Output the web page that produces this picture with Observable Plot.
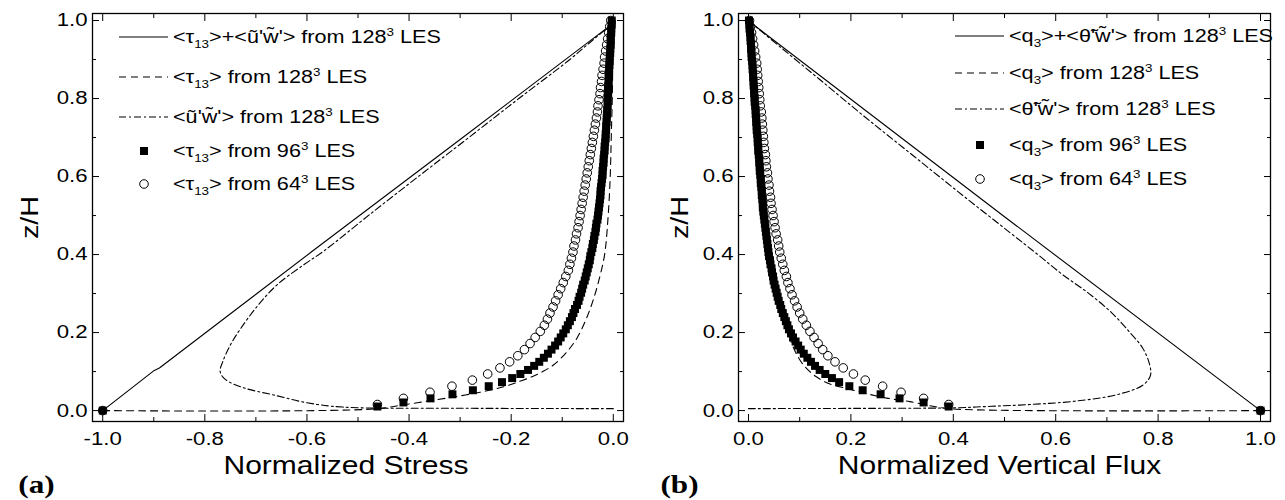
<!DOCTYPE html>
<html><head><meta charset="utf-8">
<script src="https://cdn.jsdelivr.net/npm/d3@7"></script>
<script src="https://cdn.jsdelivr.net/npm/@observablehq/plot@0.6"></script>
<style>
body{margin:0;background:#fff;}
#wrap{display:flex;width:1285px;height:500px;}
.panel{position:relative;height:500px;}
.leg{position:absolute;display:flex;align-items:center;height:24px;font-family:'Liberation Sans',Arial,sans-serif;font-size:18px;color:#000;white-space:nowrap;}
.leg svg{flex:none;overflow:visible;}
.leg .t{display:inline-block;transform:scaleX(1.2);transform-origin:0 50%;}
.leg sub{font-size:0.62em;vertical-align:baseline;position:relative;top:0.5em;}
.leg sup{font-size:0.62em;vertical-align:baseline;position:relative;top:-0.55em;}
</style></head>
<body><div id="wrap"></div>
<script>
// ---------- vertical levels (z/H) ----------
const z96 = [0.0,0.0104,0.0208,0.0313,0.0417,0.0521,0.0625,0.0729,0.0833,0.0938,0.1042,0.1146,0.125,0.1354,0.1458,0.1563,0.1667,0.1771,0.1875,0.1979,0.2083,0.2188,0.2292,0.2396,0.25,0.2604,0.2708,0.2813,0.2917,0.3021,0.3125,0.3229,0.3333,0.3438,0.3542,0.3646,0.375,0.3854,0.3958,0.4063,0.4167,0.4271,0.4375,0.4479,0.4583,0.4688,0.4792,0.4896,0.5,0.5104,0.5208,0.5313,0.5417,0.5521,0.5625,0.5729,0.5833,0.5938,0.6042,0.6146,0.625,0.6354,0.6458,0.6563,0.6667,0.6771,0.6875,0.6979,0.7083,0.7188,0.7292,0.7396,0.75,0.7604,0.7708,0.7813,0.7917,0.8021,0.8125,0.8229,0.8333,0.8438,0.8542,0.8646,0.875,0.8854,0.8958,0.9063,0.9167,0.9271,0.9375,0.9479,0.9583,0.9688,0.9792,0.9896,1.0];
const z64 = [0.0,0.0156,0.0313,0.0469,0.0625,0.0781,0.0938,0.1094,0.125,0.1406,0.1563,0.1719,0.1875,0.2031,0.2188,0.2344,0.25,0.2656,0.2813,0.2969,0.3125,0.3281,0.3438,0.3594,0.375,0.3906,0.4063,0.4219,0.4375,0.4531,0.4688,0.4844,0.5,0.5156,0.5313,0.5469,0.5625,0.5781,0.5938,0.6094,0.625,0.6406,0.6563,0.6719,0.6875,0.7031,0.7188,0.7344,0.75,0.7656,0.7813,0.7969,0.8125,0.8281,0.8438,0.8594,0.875,0.8906,0.9063,0.9219,0.9375,0.9531,0.9688,0.9844,1.0];

// ---------- panel (a): normalized stress ----------
const stressTotalX = [-1.0,-0.899,-0.889,-0.589,-0.30,-0.003];
const stressTotalZ = [0.0,0.103,0.109,0.409,0.695,0.99];
const stressSgsX = [-1.0,-0.47,-0.41,-0.345,-0.29,-0.25,-0.212,-0.183,-0.157,-0.138,-0.116,-0.09,-0.071,-0.052,-0.038,-0.027,-0.017,-0.010,-0.006,-0.004,-0.002,-0.001,0.0];
const stressSgsZ = [0.0,0.004,0.015,0.028,0.04,0.05,0.062,0.075,0.088,0.1,0.118,0.152,0.186,0.238,0.289,0.34,0.4,0.5,0.6,0.7,0.8,0.9,1.0];
const stressResX = [0.0,-0.3,-0.53,-0.6,-0.665,-0.723,-0.76,-0.77,-0.765,-0.75,-0.73,-0.697,-0.658,-0.605,-0.566,-0.47,-0.375,-0.28,-0.185,-0.09,-0.04,-0.003];
const stressResZ = [0.005,0.006,0.009,0.02,0.04,0.058,0.08,0.1,0.125,0.168,0.21,0.268,0.323,0.375,0.41,0.51,0.607,0.703,0.8,0.895,0.95,0.99];
const stress96 = [-1.0,-0.462,-0.411,-0.358,-0.315,-0.275,-0.244,-0.218,-0.198,-0.182,-0.167,-0.155,-0.145,-0.136,-0.128,-0.121,-0.114,-0.108,-0.103,-0.098,-0.093,-0.089,-0.085,-0.081,-0.078,-0.075,-0.071,-0.068,-0.066,-0.063,-0.061,-0.059,-0.056,-0.054,-0.052,-0.050,-0.048,-0.046,-0.045,-0.043,-0.041,-0.040,-0.038,-0.037,-0.035,-0.034,-0.033,-0.031,-0.030,-0.029,-0.028,-0.027,-0.026,-0.025,-0.025,-0.024,-0.023,-0.022,-0.021,-0.021,-0.020,-0.019,-0.019,-0.018,-0.017,-0.017,-0.016,-0.015,-0.015,-0.014,-0.014,-0.013,-0.013,-0.012,-0.012,-0.011,-0.011,-0.011,-0.010,-0.010,-0.010,-0.009,-0.009,-0.009,-0.008,-0.008,-0.007,-0.007,-0.006,-0.006,-0.005,-0.005,-0.005,-0.004,-0.004,-0.003,-0.003];
const stress64 = [-1.0,-0.462,-0.411,-0.359,-0.316,-0.276,-0.246,-0.222,-0.203,-0.187,-0.174,-0.163,-0.153,-0.143,-0.135,-0.129,-0.124,-0.118,-0.113,-0.108,-0.103,-0.098,-0.093,-0.088,-0.085,-0.082,-0.079,-0.077,-0.074,-0.072,-0.069,-0.067,-0.065,-0.063,-0.061,-0.059,-0.057,-0.055,-0.053,-0.051,-0.049,-0.047,-0.045,-0.043,-0.041,-0.039,-0.037,-0.035,-0.033,-0.031,-0.030,-0.028,-0.026,-0.025,-0.023,-0.022,-0.020,-0.018,-0.017,-0.015,-0.013,-0.011,-0.009,-0.007,-0.005];

// ---------- panel (b): normalized vertical flux ----------
const fluxTotalX = [1.0,0.5,0.006];
const fluxTotalZ = [0.0,0.497,0.993];
const fluxSgsX = [1.0,0.40,0.36,0.315,0.27,0.226,0.187,0.155,0.131,0.112,0.098,0.085,0.074,0.061,0.053,0.044,0.036,0.027,0.02,0.015,0.01,0.005,0.0];
const fluxSgsZ = [0.0,0.004,0.011,0.023,0.032,0.045,0.058,0.07,0.088,0.11,0.135,0.17,0.211,0.26,0.3,0.348,0.4,0.5,0.6,0.7,0.8,0.9,1.0];
const fluxResX = [0.0,0.3,0.4,0.475,0.556,0.637,0.717,0.77,0.785,0.783,0.77,0.745,0.71,0.665,0.612,0.565,0.51,0.42,0.325,0.23,0.138,0.064,0.006];
const fluxResZ = [0.005,0.006,0.007,0.011,0.016,0.024,0.04,0.065,0.09,0.12,0.16,0.2,0.25,0.3,0.35,0.4,0.457,0.55,0.65,0.75,0.85,0.93,0.993];
const flux96 = [1.0,0.391,0.342,0.295,0.258,0.223,0.197,0.177,0.163,0.150,0.139,0.130,0.122,0.115,0.108,0.102,0.097,0.092,0.087,0.083,0.079,0.076,0.073,0.070,0.067,0.064,0.062,0.059,0.057,0.055,0.053,0.051,0.049,0.048,0.046,0.045,0.043,0.042,0.040,0.039,0.038,0.037,0.036,0.035,0.034,0.033,0.032,0.031,0.030,0.029,0.028,0.028,0.027,0.026,0.026,0.025,0.024,0.024,0.023,0.022,0.022,0.021,0.021,0.020,0.019,0.019,0.018,0.018,0.017,0.016,0.016,0.015,0.015,0.014,0.014,0.013,0.012,0.012,0.011,0.011,0.010,0.010,0.009,0.009,0.008,0.008,0.007,0.006,0.006,0.005,0.005,0.004,0.004,0.003,0.002,0.002,0.001];
const flux64 = [1.0,0.391,0.342,0.298,0.262,0.228,0.205,0.185,0.169,0.155,0.145,0.136,0.128,0.120,0.113,0.106,0.100,0.095,0.090,0.085,0.081,0.077,0.074,0.070,0.067,0.064,0.061,0.059,0.057,0.054,0.052,0.050,0.048,0.046,0.044,0.043,0.041,0.040,0.038,0.037,0.035,0.034,0.033,0.031,0.030,0.029,0.028,0.027,0.026,0.025,0.023,0.022,0.021,0.020,0.019,0.018,0.017,0.016,0.014,0.012,0.010,0.008,0.006,0.004,0.002];

// ---------- ticks & text ----------
const stressMajor = [-1.0,-0.8,-0.6,-0.4,-0.2,0.0];
const stressMinor = [-0.9,-0.7,-0.5,-0.3,-0.1];
const fluxMajor = [0.0,0.2,0.4,0.6,0.8,1.0];
const fluxMinor = [0.1,0.3,0.5,0.7,0.9];
const zMajor = [0.0,0.2,0.4,0.6,0.8,1.0];
const zMinor = [0.1,0.3,0.5,0.7,0.9];
const xTitles = ["Normalized Stress","Normalized Vertical Flux"];
const yTitle = "z/H";
const panelTags = ["(a)","(b)"];
const legendA = [
  "&lt;τ<sub>13</sub>&gt;+&lt;ũ'w\u0303'&gt; from 128<sup>3</sup> LES",
  "&lt;τ<sub>13</sub>&gt; from 128<sup>3</sup> LES",
  "&lt;ũ'w\u0303'&gt; from 128<sup>3</sup> LES",
  "&lt;τ<sub>13</sub>&gt; from 96<sup>3</sup> LES",
  "&lt;τ<sub>13</sub>&gt; from 64<sup>3</sup> LES"];
const legendB = [
  "&lt;q<sub>3</sub>&gt;+&lt;θ\u0303'w\u0303'&gt; from 128<sup>3</sup> LES",
  "&lt;q<sub>3</sub>&gt; from 128<sup>3</sup> LES",
  "&lt;θ\u0303'w\u0303'&gt; from 128<sup>3</sup> LES",
  "&lt;q<sub>3</sub>&gt; from 96<sup>3</sup> LES",
  "&lt;q<sub>3</sub>&gt; from 64<sup>3</sup> LES"];
const legendKinds = ["solid","dashed","dashdot","square","circle"];

const DASH = "7,5", DASHDOT = "7,3,2,3";
const STRETCH = 1.2;
const fmt = d => d.toFixed(1);
const rows = (xs, zs) => xs.map((x, i) => ({x, z: zs[i]}));

function frameAxes(xMajor, xMinor) {
  const none = () => "";
  return [
    Plot.frame({stroke: "black", strokeWidth: 1.3}),
    Plot.axisX({ticks: xMajor, tickSize: -7, tickFormat: none, label: null}),
    Plot.axisX({ticks: xMinor, tickSize: -4, tickFormat: none, label: null}),
    Plot.axisX({anchor: "top", ticks: xMajor, tickSize: -7, tickFormat: none, label: null}),
    Plot.axisX({anchor: "top", ticks: xMinor, tickSize: -4, tickFormat: none, label: null}),
    Plot.axisY({ticks: zMajor, tickSize: -7, tickFormat: none, label: null}),
    Plot.axisY({ticks: zMinor, tickSize: -4, tickFormat: none, label: null}),
    Plot.axisY({anchor: "right", ticks: zMajor, tickSize: -7, tickFormat: none, label: null}),
    Plot.axisY({anchor: "right", ticks: zMinor, tickSize: -4, tickFormat: none, label: null}),
    // tick labels
    Plot.text(xMajor, {x: d => d, text: fmt, frameAnchor: "bottom", lineAnchor: "top", textAnchor: "middle", dy: 10, fontSize: 18.5}),
    Plot.text(zMajor, {y: d => d, text: fmt, frameAnchor: "left", textAnchor: "end", dx: -5, fontSize: 18.5})
  ];
}

function makePanel(cfg) {
  return Plot.plot({
    width: cfg.width, height: 500,
    marginLeft: cfg.ml, marginRight: cfg.mr, marginTop: 13, marginBottom: 79,
    x: {domain: cfg.xDomain},
    y: {domain: [-0.028, 1.018]},
    style: {fontFamily: "'Liberation Sans', Arial, sans-serif", fontSize: "18.5px", color: "black", background: "white", overflow: "visible"},
    marks: [
      Plot.line(rows(cfg.totX, cfg.totZ), {x: "x", y: "z", stroke: "black", strokeWidth: 1.1}),
      Plot.line(rows(cfg.sgsX, cfg.sgsZ), {x: "x", y: "z", stroke: "black", strokeWidth: 1.1, strokeDasharray: DASH, curve: "catmull-rom"}),
      Plot.line(rows(cfg.resX, cfg.resZ), {x: "x", y: "z", stroke: "black", strokeWidth: 1.1, strokeDasharray: DASHDOT, curve: "catmull-rom"}),
      Plot.dot(rows(cfg.c64, z64), {x: "x", y: "z", r: 4.3, stroke: "black", strokeWidth: 1, fill: "none"}),
      Plot.dot(rows(cfg.s96, z96), {x: "x", y: "z", r: 4.5, symbol: "square", fill: "black", stroke: "none"}),
      ...frameAxes(cfg.xMajor, cfg.xMinor),
      Plot.text([cfg.xTitle], {text: d => d, frameAnchor: "bottom", textAnchor: "middle", dy: 52, dx: cfg.titleDx, fontSize: 25}),
      Plot.text([yTitle], {text: d => d, frameAnchor: "left", textAnchor: "middle", dx: cfg.yTitleDx, rotate: -90, fontSize: 24}),
      Plot.text([cfg.tag], {text: d => d, frameAnchor: "bottom-left", textAnchor: "middle", dx: cfg.tagDx, dy: 71, fontSize: 26, fontWeight: "bold", fontFamily: "'Liberation Serif', 'DejaVu Serif', serif"})
    ]
  });
}

// widen glyphs horizontally (about each text's own anchor)
function stretchText(svg, s) {
  svg.querySelectorAll("text").forEach(t => {
    if (!t.textContent) return;
    const x = t.getAttribute("x");
    if (x != null && x !== "" && !isNaN(+x)) t.setAttribute("x", +x / s);
    const tr = t.getAttribute("transform") || "";
    t.setAttribute("transform", `${tr} scale(${s},1)`);
  });
}

function swatch(kind) {
  const w = 49, cy = 12;
  if (kind === "solid") return `<svg width="${w}" height="24"><line x1="0" y1="${cy}" x2="${w}" y2="${cy}" stroke="#000" stroke-width="1.1"/></svg>`;
  if (kind === "dashed") return `<svg width="${w}" height="24"><line x1="0" y1="${cy}" x2="${w}" y2="${cy}" stroke="#000" stroke-width="1.1" stroke-dasharray="${DASH}"/></svg>`;
  if (kind === "dashdot") return `<svg width="${w}" height="24"><line x1="0" y1="${cy}" x2="${w}" y2="${cy}" stroke="#000" stroke-width="1.1" stroke-dasharray="${DASHDOT}"/></svg>`;
  if (kind === "square") return `<svg width="${w}" height="24"><rect x="21" y="${cy-4}" width="8" height="8" fill="#000"/></svg>`;
  return `<svg width="${w}" height="24"><circle cx="25" cy="${cy}" r="4.3" fill="none" stroke="#000" stroke-width="1"/></svg>`;
}

function addLegend(div, labels, left, gap, ys) {
  labels.forEach((lab, i) => {
    const row = document.createElement("div");
    row.className = "leg";
    row.style.left = left + "px";
    row.style.top = (ys[i] - 12) + "px";
    row.innerHTML = swatch(legendKinds[i]) + `<span class="t" style="margin-left:${gap}px">${lab}</span>`;
    div.appendChild(row);
  });
}

const wrap = document.getElementById("wrap");
const cfgs = [
  {width: 642, ml: 92, mr: 19, xDomain: [-1.02, 0.02], totX: stressTotalX, totZ: stressTotalZ, sgsX: stressSgsX, sgsZ: stressSgsZ, resX: stressResX, resZ: stressResZ, s96: stress96, c64: stress64, xMajor: stressMajor, xMinor: stressMinor, xTitle: xTitles[0], titleDx: -12, yTitleDx: -62, tag: panelTags[0], tagDx: -56, legend: legendA, legLeft: 119, legGap: 5, legYs: [37, 77, 117, 151, 184]},
  {width: 643, ml: 96, mr: 15, xDomain: [-0.0195, 1.0195], totX: fluxTotalX, totZ: fluxTotalZ, sgsX: fluxSgsX, sgsZ: fluxSgsZ, resX: fluxResX, resZ: fluxResZ, s96: flux96, c64: flux64, xMajor: fluxMajor, xMinor: fluxMinor, xTitle: xTitles[1], titleDx: -5, yTitleDx: -58, tag: panelTags[1], tagDx: -59, legend: legendB, legLeft: 313, legGap: 5, legYs: [36, 73, 109, 145, 179]}
];
cfgs.forEach(cfg => {
  const div = document.createElement("div");
  div.className = "panel";
  div.style.width = cfg.width + "px";
  const svg = makePanel(cfg);
  stretchText(svg, STRETCH);
  div.appendChild(svg);
  addLegend(div, cfg.legend, cfg.legLeft, cfg.legGap, cfg.legYs);
  wrap.appendChild(div);
});
</script></body></html>
